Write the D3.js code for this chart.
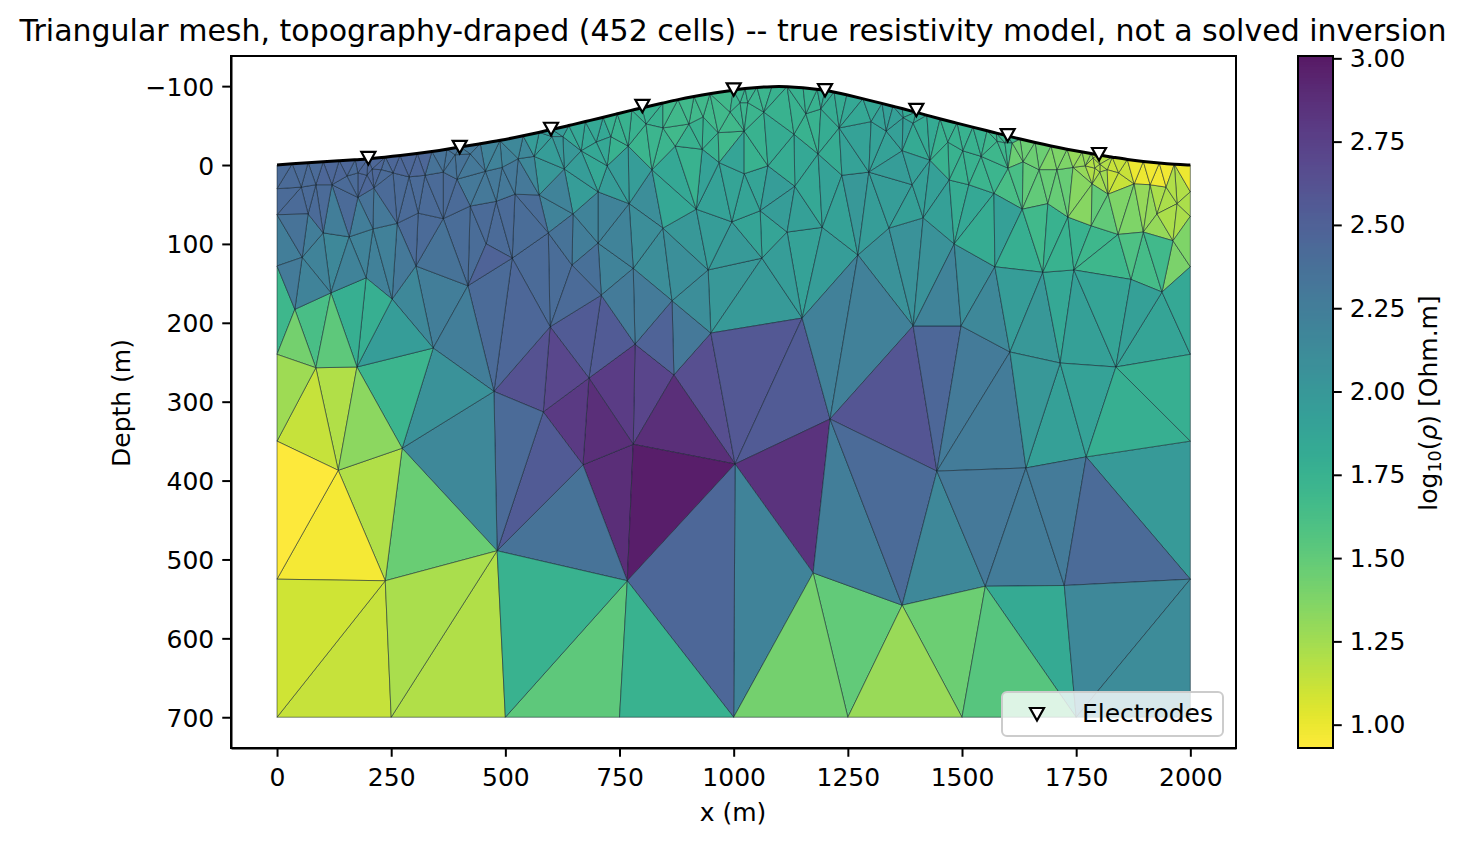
<!DOCTYPE html>
<html>

<head>
    <meta charset="UTF-8">
    <style>
        body { margin: 0; background: #fff; }
        text { font-family: "DejaVu Sans", sans-serif; fill: #000; }
        .tick text { font-size: 25px; }
        .domain, .tick line { stroke: #000; stroke-width: 2; }
    </style>
</head>

<body>
    <svg></svg>
    <script src="https://d3js.org/d3.v7.min.js"></script>

    <script>

        // topography nodes, left to right: [x, depth]
        const surfaceNodes = [[0,0],[33,-1.5],[68,-3],[101,-4],[136,-5.5],[171,-6.5],[199,-8],[237,-10],[269,-12],[307,-14.5],[339,-17],[372,-20],[401,-23],[445,-27],[488,-31],[539,-37],[574,-41.5],[602,-45],[639,-50],[675,-55],[714,-60.5],[745,-65],[777,-69.5],[799,-72.5],[845,-78.5],[878,-83],[913,-87],[948,-90.5],[999,-95],[1025,-97],[1051,-98.5],[1084,-99.5],[1117,-99.5],[1152,-98],[1183,-96],[1200,-94.5],[1220,-92.5],[1248,-89],[1283,-84],[1325,-78],[1349,-74.5],[1369,-71.5],[1399,-67],[1423,-63],[1452,-58.5],[1489,-53],[1524,-48],[1555,-43.5],[1575,-40.5],[1599,-37],[1627,-33],[1660,-28.5],[1695,-24],[1730,-20],[1763,-16.5],[1783,-14.5],[1800,-12.5],[1829,-10],[1862,-7],[1897,-4.5],[1932,-2.5],[1965,-1],[2000,0]];

        const rightEdgeNodes = [[2000,34],[2000,65],[2000,129],[2000,240],[2000,350],[2000,525],[2000,700]];
        const bottomNodes = [[1750,700],[1500,700],[1250,700],[1000,700],[750,700],[500,700],[250,700],[0,700]];
        const leftEdgeNodes = [[0,525],[0,350],[0,240],[0,128],[0,63],[0,30]];

        const interiorNodes = [
            [53,28],[85,25],[120,25],[153,14],[177,10],[197,13],[208,5],[228,6],[254,10],[289,15],[324,13],[364,9],[394,18],[390,-13],[423,-14],[456,8],[493,3],[212,29],[177,41],[423,52],[480,46],[364,68],[309,61],[263,74],[210,81],[158,91],[101,86],[68,62],[55,117],[118,162],[39,183],[195,143],[252,170],[304,128],[458,100],[515,118],[418,153],[342,232],[85,257],[175,256],[134,387],[274,359],[237,527],[482,489],
            [475,287],[583,313],[683,270],[784,227],[869,266],[950,213],[598,205],[710,165],[865,172],[646,127],[594,86],[703,99],[780,131],[845,80],[944,133],[996,72],[670,380],[780,354],[1003,379],[767,527],
            [528,-8],[563,-11],[602,-36],[626,-36],[666,-18],[699,-29],[731,-36],[769,-24],[808,-52],[845,-47],[902,-52],[933,-61],[966,-41],[992,-67],[931,-20],[872,-24],[821,6],[723,1],[629,5],[968,-3],[918,56],[771,49],[703,34],[574,38],[521,37],[648,62],
            [1031,-79],[1014,-79],[1066,-67],[1023,-43],[1132,-39],[1158,-65],[1191,-71],[1231,-47],[1301,-55],[1334,-43],[1371,-60],[1393,-53],[1369,-18],[1430,-6],[1469,-29],[1502,-18],[1185,-14],[1075,1],[1023,11],[1134,27],[1237,13],[1296,9],[1391,25],[1472,19],[1058,58],[1194,79],[1340,80],[1415,67],[1515,25],
            [1542,-11],[1577,-30],[1594,-28],[1610,-28],[1601,4],[1634,-4],[1669,6],[1708,6],[1743,3],[1770,1],[1791,4],[1802,-1],[1818,6],[1785,24],[1820,37],[1877,24],[1912,25],[1947,28],[1971,49],[1927,62],[1897,85],[1842,88],[1783,77],[1732,66],[1688,49],[1632,56],[1570,36],
            [1843,10],[1802,9],[1787,-9],
            [1962,96],[1870,145],[1938,161],[1745,133],[1677,136],[1572,129],[1483,100],[1272,114],[1117,85],[1062,118],[1150,194],[1393,204],[1498,204],[1605,237],[1715,251],[1837,256],[1772,370],[1640,384],[1445,388],[1211,322],[1174,517],[1369,558],[1551,534],[1724,533]
        ];

        // log10 resistivity read at cell positions: [x, depth, value]
        const cellReadings = [
            [79,584,1.1],[162,643,1.13],[322,572,1.23],[410,630,1.2],[583,572,1.75],[672,643,1.52],[839,643,1.75],[924,536,2.45],[1060,533,2.2],[1141,639,1.42],[1264,592,1.5],[1373,653,1.28],[1474,597,1.45],[1601,644,1.55],[1675,588,1.82],[1824,644,2.15],[1907,586,2.12],[1833,477,2.42],[1925,415,1.98],[1713,430,2.28],[1638,484,2.27],[1546,436,2.3],[1456,494,2.15],[1342,424,2.42],[1250,465,2.25],[1130,407,2.85],[1121,299,2.55],[1036,262,2.58],[942,287,2.65],[885,333,2.87],[850,421,2.98],[738,421,2.88],[639,465,2.35],[578,394,2.55],[512,363,2.42],[410,378,2.15],[364,293,2.05],[263,283,1.72],[195,333,1.33],[215,425,1.2],[331,459,1.47],[123,479,0.97],[44,421,0.93],[72,331,1.13],[131,300,1.2],[28,283,1.27],[42,227,1.42],[81,200,1.62],[127,226,1.52],[162,188,1.78],[208,190,1.78],[256,219,1.95],[13,184,1.7],[300,176,2.15],[355,171,2.25],[412,224,2.25],[469,186,2.42],[530,203,2.45],[552,269,2.62],[622,262,2.7],[664,213,2.55],[725,221,2.55],[646,321,2.8],[712,335,2.87],[749,284,2.78],[810,283,2.72],[839,222,2.48],[896,217,2.3],[758,174,2.28],[810,176,2.28],[650,166,2.42],[685,131,2.38],[569,137,2.42],[613,139,2.4],[414,108,2.4],[464,124,2.48],[361,117,2.35],[920,172,2.1],[830,128,2.1],[885,128,2.08],[985,155,2.0],[1053,175,1.98],[1211,210,2.22],[1292,213,2.22],[1351,304,2.6],[1445,265,2.45],[1518,276,2.28],[1564,336,2.27],[1653,290,2.0],[1708,335,1.92],[1774,293,1.9],[1870,326,1.78],[1945,281,1.78],[1925,219,1.88],[1980,176,1.85],[1881,188,1.92],[1818,178,1.88],[1765,213,1.92],[1713,174,1.85],[1667,208,2.0],[1618,167,1.95],[1559,190,2.15],[1518,145,2.08],[1458,170,2.2],[1430,124,2.05],[1382,118,2.05],[1336,133,2.05],
            [57,95,2.25],[28,142,2.28],[79,117,2.2],[131,124,2.15],[175,124,2.2],[226,112,2.22],[276,112,2.3],[313,95,2.42],[423,82,2.45],[276,82,2.42],[510,95,2.42],[554,95,2.4],[620,95,2.35],[675,91,2.25],[745,112,2.2],[810,95,2.1],[898,104,2.0],[964,91,1.95],[992,112,1.98],[57,76,2.35],[101,74,2.4],
            [204,61,2.35],[123,61,2.25],[177,66,2.25],[241,61,2.3],[298,40,2.42],[357,36,2.42],[394,44,2.42],[451,61,2.42],[466,23,2.3],[429,-6,2.3],[495,-10,2.2],[379,-3,2.35],[44,10,2.42],[28,44,2.42],[131,10,2.45],[204,3,2.45],[276,3,2.45],[94,48,2.42],[153,36,2.42],[232,32,2.42],
            [520,-10,2.15],[600,-30,1.95],[680,-30,1.85],[750,-40,1.75],[800,-60,1.75],[900,-70,1.68],[960,-70,1.68],[513,19,2.3],[620,-3,2.0],[670,19,1.95],[707,-23,1.85],[745,19,1.95],[817,-23,1.72],[854,40,1.85],[926,-23,1.75],[955,40,1.9],[635,53,2.2],[547,61,2.4],[707,61,2.2],[810,70,2.1],[920,74,2.05],
            [1020,40,1.88],[1064,-23,1.75],[1101,-10,1.8],[1152,19,1.85],[1101,61,1.95],[1211,53,1.9],[1283,53,2.0],[1342,19,1.95],[1393,-44,1.82],[1467,-3,1.75],[1502,53,1.8],[1211,-82,1.8],[1283,-70,1.85],[1314,-23,1.9],[1430,53,1.92],[1371,-35,1.92],[1040,-85,1.72],[1100,-85,1.75],[1160,-85,1.75],
            [1518,-23,1.75],[1568,-23,1.7],[1540,15,1.72],[1518,53,1.85],[1605,40,1.62],[1656,28,1.5],[1656,-19,1.45],[1715,-6,1.38],[1708,36,1.48],[1765,48,1.35],[1809,23,1.25],[1752,-6,1.3],[1809,3,1.2],[1840,10,1.12],[1890,10,1.0],[1927,13,0.98],[1982,15,1.0],[1976,32,1.2],[1949,44,1.22],[1897,44,1.3],[1846,53,1.38],[1912,74,1.3],[1984,61,1.22],[1984,82,1.38],[1787,70,1.5],[1671,61,1.68],[1568,61,1.92],[1732,79,1.75],
            [1796,112,1.7],[1905,112,1.65],[1934,133,1.68],[1977,112,1.4],[1868,99,1.6],[1721,104,1.75],[1649,99,1.78],[1577,99,1.8],[1502,108,1.95],[1430,91,2.0],[1358,112,2.05],[1283,82,1.95],[1211,104,1.95],[1139,104,1.9],[1064,95,1.88],[1021,137,1.98],[1101,155,1.95],[1152,82,1.92]
        ];

        const electrodeX = [200, 400, 600, 800, 1000, 1200, 1400, 1600, 1800];
        const electrodeDepth = [-9, -23, -46, -75, -96, -95, -70, -38, -14];

        const xTicks = [0, 250, 500, 750, 1000, 1250, 1500, 1750, 2000];
        const yTicks = [-100, 0, 100, 200, 300, 400, 500, 600, 700];
        const colorTicks = [1.00, 1.25, 1.50, 1.75, 2.00, 2.25, 2.50, 2.75, 3.00];
        const colorMin = 0.93, colorMax = 3.007;

        let width = 1466, height = 842;
        let axisBox = { left: 231, right: 1236, top: 56, bottom: 748 };
        let barBox = { left: 1298, right: 1333 };

        let svg = d3.select("svg")
            .attr("width", width)
            .attr("height", height)
            .attr("viewBox", "0 0 " + width + " " + height)
            .style("display", "block");

        let x = d3.scaleLinear().domain([-100.8, 2100]).range([axisBox.left, axisBox.right]);
        let y = d3.scaleLinear().domain([-138.2, 739]).range([axisBox.top, axisBox.bottom]);
        let barY = d3.scaleLinear().domain([colorMin, colorMax]).range([axisBox.bottom, axisBox.top]);

        // reversed viridis, alpha 0.9 flattened on white
        let color = v => d3.interpolateRgb(d3.interpolateViridis((colorMax - v) / (colorMax - colorMin)), "#fff")(0.1);

        let nodes = [...surfaceNodes, ...rightEdgeNodes, ...bottomNodes, ...leftEdgeNodes, ...interiorNodes];
        let outline = [...surfaceNodes, ...rightEdgeNodes, ...bottomNodes, ...leftEdgeNodes];

        // connectivity from Delaunay, dropping what falls above the topography
        let delaunay = d3.Delaunay.from(nodes);
        let cells = [];
        for (let i = 0; i < delaunay.triangles.length; i += 3) {
            let tri = [delaunay.triangles[i], delaunay.triangles[i + 1], delaunay.triangles[i + 2]].map(n => nodes[n]);
            let centre = [d3.mean(tri, p => p[0]), d3.mean(tri, p => p[1])];
            if (!d3.polygonContains(outline, centre)) continue;
            let reading = d3.least(cellReadings, r => (r[0] - centre[0]) ** 2 + (r[1] - centre[1]) ** 2);
            cells.push({ tri: tri, value: reading[2] });
        }

        svg.append("g")
            .attr("id", "cells")
            .selectAll("path")
            .data(cells)
            .enter()
            .append("path")
            .attr("d", d => "M" + d.tri.map(p => x(p[0]) + "," + y(p[1])).join("L") + "Z")
            .attr("fill", d => color(d.value))
            .attr("stroke", "#12202c")
            .attr("stroke-opacity", 0.75)
            .attr("stroke-width", 0.7);

        svg.append("path")
            .datum(surfaceNodes)
            .attr("d", d3.line().x(d => x(d[0])).y(d => y(d[1])).curve(d3.curveBasis))
            .attr("fill", "none")
            .attr("stroke", "#000")
            .attr("stroke-width", 3);

        let triangleDown = "M-7,-6L7,-6L0,6.5Z";

        svg.append("g")
            .attr("id", "electrodes")
            .selectAll("path")
            .data(electrodeX)
            .enter()
            .append("path")
            .attr("transform", (d, i) => "translate(" + x(d) + "," + y(electrodeDepth[i]) + ")")
            .attr("d", triangleDown)
            .attr("fill", "#fff")
            .attr("stroke", "#000")
            .attr("stroke-width", 2.2);

        // axes
        svg.append("g")
            .attr("transform", "translate(0," + axisBox.bottom + ")")
            .call(d3.axisBottom(x).tickValues(xTicks).tickFormat(d3.format("d")).tickSize(8.75).tickPadding(11).tickSizeOuter(0));

        svg.append("g")
            .attr("transform", "translate(" + axisBox.left + ",0)")
            .call(d3.axisLeft(y).tickValues(yTicks).tickFormat(d3.format("d")).tickSize(8.75).tickPadding(8).tickSizeOuter(0))
            .selectAll("text").attr("dy", "0.36em");

        svg.append("rect")
            .attr("x", axisBox.left)
            .attr("y", axisBox.top)
            .attr("width", axisBox.right - axisBox.left)
            .attr("height", axisBox.bottom - axisBox.top)
            .attr("fill", "none")
            .attr("stroke", "#000")
            .attr("stroke-width", 2);

        // legend
        let legend = svg.append("g").attr("id", "legend");
        legend.append("rect")
            .attr("x", 1002).attr("y", 692).attr("width", 221).attr("height", 44).attr("rx", 5)
            .attr("fill", "#fff").attr("fill-opacity", 0.8)
            .attr("stroke", "#ccc").attr("stroke-width", 2);
        legend.append("path")
            .attr("transform", "translate(1037,714)")
            .attr("d", triangleDown)
            .attr("fill", "#fff")
            .attr("stroke", "#000")
            .attr("stroke-width", 2.2);
        legend.append("text")
            .attr("x", 1082).attr("y", 722)
            .style("font-size", "25px")
            .text("Electrodes");

        // colorbar
        let barSteps = d3.range(256).map(i => colorMin + (colorMax - colorMin) * i / 256);
        let barStep = (colorMax - colorMin) / 256;
        svg.append("g")
            .attr("id", "colorbar")
            .attr("shape-rendering", "crispEdges")
            .selectAll("rect")
            .data(barSteps)
            .enter()
            .append("rect")
            .attr("x", barBox.left)
            .attr("width", barBox.right - barBox.left)
            .attr("y", d => barY(d + barStep))
            .attr("height", d => barY(d) - barY(d + barStep) + 0.5)
            .attr("fill", d => color(d + barStep / 2));

        svg.append("g")
            .attr("transform", "translate(" + barBox.right + ",0)")
            .call(d3.axisRight(barY).tickValues(colorTicks).tickFormat(d3.format(".2f")).tickSize(8.75).tickPadding(8).tickSizeOuter(0))
            .select(".domain").remove();

        svg.append("rect")
            .attr("x", barBox.left)
            .attr("y", axisBox.top)
            .attr("width", barBox.right - barBox.left)
            .attr("height", axisBox.bottom - axisBox.top)
            .attr("fill", "none")
            .attr("stroke", "#000")
            .attr("stroke-width", 2);

        // titles
        svg.append("text")
            .attr("x", 733).attr("y", 41)
            .attr("text-anchor", "middle")
            .style("font-size", "30px")
            .text("Triangular mesh, topography-draped (452 cells) -- true resistivity model, not a solved inversion");

        svg.append("text")
            .attr("x", 733).attr("y", 821)
            .attr("text-anchor", "middle")
            .style("font-size", "25px")
            .text("x (m)");

        svg.append("text")
            .attr("transform", "translate(130,403) rotate(-90)")
            .attr("text-anchor", "middle")
            .style("font-size", "25px")
            .text("Depth (m)");

        let barLabel = svg.append("text")
            .attr("transform", "translate(1437,403) rotate(-90)")
            .attr("text-anchor", "middle")
            .style("font-size", "25px");
        barLabel.append("tspan").text("log");
        barLabel.append("tspan").attr("dy", 4).style("font-size", "17.5px").text("10");
        barLabel.append("tspan").attr("dy", -4).text("(");
        barLabel.append("tspan").style("font-style", "italic").text("ρ");
        barLabel.append("tspan").text(") [Ohm.m]");

    </script>

</body>

</html>
